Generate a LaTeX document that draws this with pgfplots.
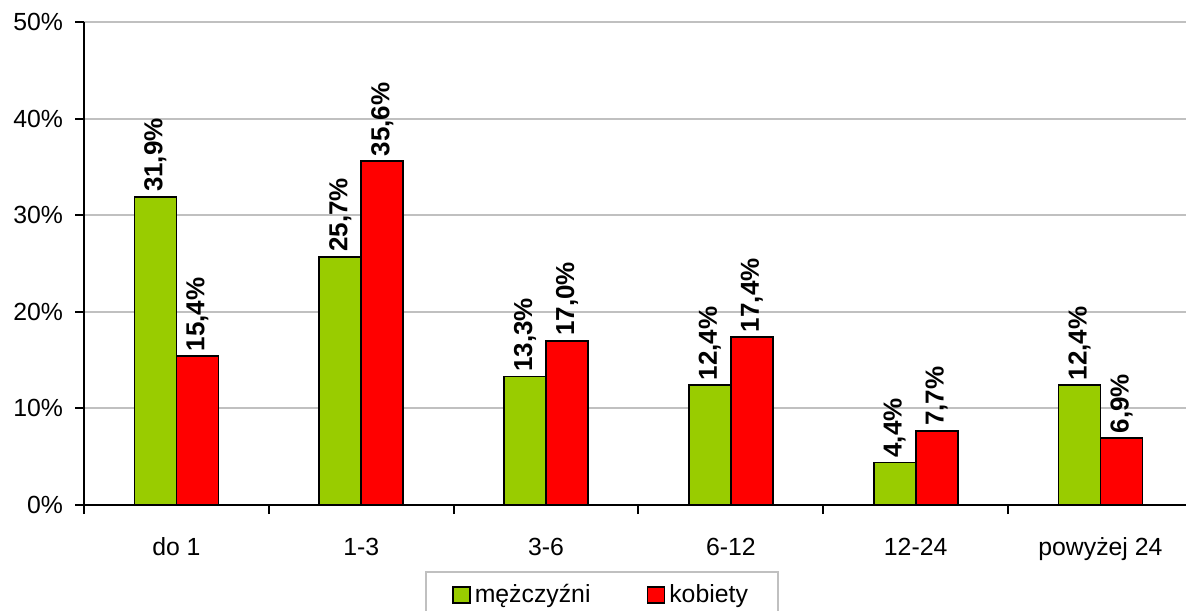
\documentclass[border=0pt]{standalone}
\usepackage{fontspec}
\setmainfont{Liberation Sans}
\usepackage{pgfplots}
\pgfplotsset{compat=1.18}

\definecolor{zielony}{HTML}{99CC00}
\definecolor{czerwony}{HTML}{FF0000}
\definecolor{siatka}{HTML}{C0C0C0}

\begin{document}
\begin{tikzpicture}
\begin{axis}[
    at={(0pt,0pt)}, anchor=south west,
    scale only axis,
    width=551pt, height=241.5pt,
    ybar=0pt, bar width=21pt,
    xmin=-0.5, xmax=5.463,
    ymin=0, ymax=50,
    axis x line=bottom, axis y line=left,
    axis line style={-, line width=1pt},
    tick style={black, line width=1pt},
    tick align=outside, major tick length=4.5pt,
    /pgf/number format/assume math mode=true,
    ticklabel style={font=\fontsize{12.4}{14}\selectfont},
    xtick={-0.5,0.5,...,5.5},
    xticklabels={do 1,1-3,3-6,6-12,12-24,powyżej 24,},
    xticklabel style={xshift=46.2pt, yshift=-8.4pt},
    ytick={0,10,...,50},
    yticklabel={\pgfmathprintnumber{\tick}\%},
    yticklabel style={xshift=-2.5pt},
    ymajorgrids,
    grid style={siatka, line width=1pt},
    nodes near coords={\pgfmathprintnumber[fixed,fixed zerofill,precision=1,use comma]{\pgfplotspointmeta}\%},
    every node near coord/.append style={rotate=90, anchor=west, inner xsep=2pt,
        font=\bfseries\fontsize{13}{15}\selectfont, text=black},
    legend columns=2,
    legend style={at={(0.470,-0.1366)}, anchor=north,
        draw=siatka, line width=1pt,
        font=\fontsize{12.4}{14}\selectfont,
        inner xsep=13pt, inner ysep=4pt,
        /tikz/every even column/.append style={column sep=26pt}},
    legend image code/.code={\draw[#1, draw=black, line width=0.9pt] (0pt,-4pt) rectangle (8.5pt,4pt);},
]
\addplot[fill=zielony, draw=black, line width=0.9pt] coordinates {
    (0,31.9) (1,25.7) (2,13.3) (3,12.4) (4,4.4) (5,12.4)
};
\addplot[fill=czerwony, draw=black, line width=0.9pt] coordinates {
    (0,15.4) (1,35.6) (2,17.0) (3,17.4) (4,7.7) (5,6.9)
};
\legend{mężczyźni, kobiety}
\end{axis}
\pgfresetboundingbox
\path[use as bounding box] (-42pt,-52.5pt) rectangle (551pt,252.5pt);
\end{tikzpicture}
\end{document}
